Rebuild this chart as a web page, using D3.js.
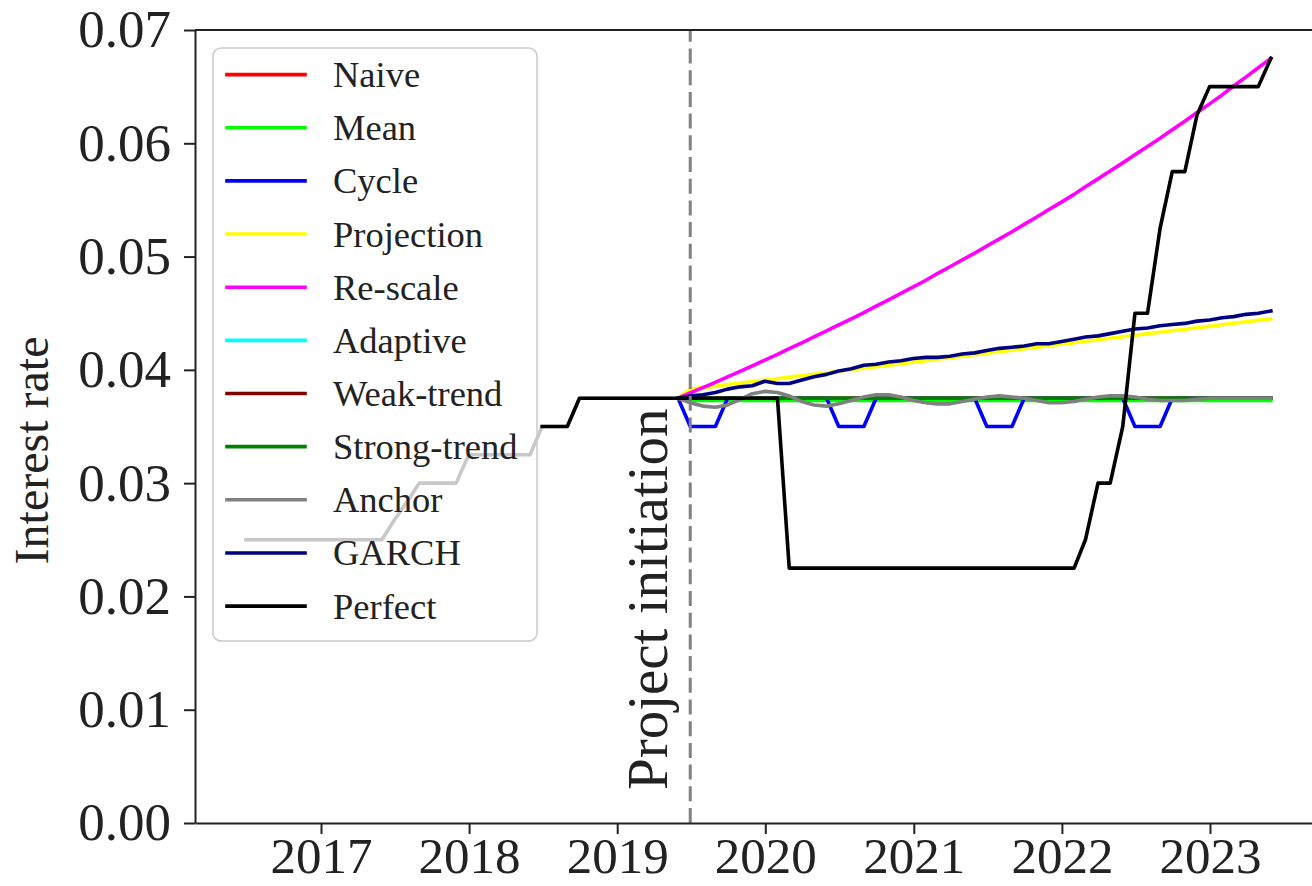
<!DOCTYPE html>
<html>
<head>
<meta charset="utf-8">
<script src="https://cdn.jsdelivr.net/npm/d3@7"></script>
<style>
  html, body { margin: 0; padding: 0; background: #ffffff; }
  svg { display: block; }
  text { font-family: "Liberation Serif", "Times New Roman", Times, serif; fill: #222222; }
</style>
</head>
<body>
<svg id="chart" width="1312" height="886"></svg>
<script>
// ---------------------------------------------------------------------------
// Data: monthly interest-rate series (month-end observations)
// ---------------------------------------------------------------------------

// Observed rate before the project starts, Jun 2016 – May 2019
const historyStart = [2016, 5];
const historyRate = [
  0.025, 0.025, 0.025, 0.025, 0.025, 0.025, 0.025, 0.025, 0.025, 0.025, 0.025, 0.025,
  0.0267, 0.0283, 0.030, 0.030, 0.030, 0.030, 0.0325, 0.0325, 0.0325, 0.0325, 0.0325, 0.0325,
  0.035, 0.035, 0.035, 0.0375, 0.0375, 0.0375, 0.0375, 0.0375, 0.0375, 0.0375, 0.0375, 0.0375
];

// Forecasts, May 2019 – May 2023
const forecastStart = [2019, 4];

const naive = [
  0.0375,
  0.0375, 0.0375, 0.0375, 0.0375, 0.0375, 0.0375, 0.0375, 0.0375, 0.0375, 0.0375, 0.0375, 0.0375,
  0.0375, 0.0375, 0.0375, 0.0375, 0.0375, 0.0375, 0.0375, 0.0375, 0.0375, 0.0375, 0.0375, 0.0375,
  0.0375, 0.0375, 0.0375, 0.0375, 0.0375, 0.0375, 0.0375, 0.0375, 0.0375, 0.0375, 0.0375, 0.0375,
  0.0375, 0.0375, 0.0375, 0.0375, 0.0375, 0.0375, 0.0375, 0.0375, 0.0375, 0.0375, 0.0375, 0.0375
];
const mean = [
  0.0375,
  0.0373, 0.0373, 0.0373, 0.0373, 0.0373, 0.0373, 0.0373, 0.0373, 0.0373, 0.0373, 0.0373, 0.0373,
  0.0373, 0.0373, 0.0373, 0.0373, 0.0373, 0.0373, 0.0373, 0.0373, 0.0373, 0.0373, 0.0373, 0.0373,
  0.0373, 0.0373, 0.0373, 0.0373, 0.0373, 0.0373, 0.0373, 0.0373, 0.0373, 0.0373, 0.0373, 0.0373,
  0.0373, 0.0373, 0.0373, 0.0373, 0.0373, 0.0373, 0.0373, 0.0373, 0.0373, 0.0373, 0.0373, 0.0373
];
const cycle = [
  0.0375,
  0.035, 0.035, 0.035, 0.0375, 0.0375, 0.0375, 0.0375, 0.0375, 0.0375, 0.0375, 0.0375, 0.0375,
  0.035, 0.035, 0.035, 0.0375, 0.0375, 0.0375, 0.0375, 0.0375, 0.0375, 0.0375, 0.0375, 0.0375,
  0.035, 0.035, 0.035, 0.0375, 0.0375, 0.0375, 0.0375, 0.0375, 0.0375, 0.0375, 0.0375, 0.0375,
  0.035, 0.035, 0.035, 0.0375, 0.0375, 0.0375, 0.0375, 0.0375, 0.0375, 0.0375, 0.0375, 0.0375
];
const projection = [
  0.0375,
  0.0383, 0.03843, 0.03856, 0.03870, 0.03883, 0.03896, 0.03909, 0.03922, 0.03936, 0.03949, 0.03962, 0.03975,
  0.03988, 0.04002, 0.04015, 0.04028, 0.04041, 0.04054, 0.04068, 0.04081, 0.04094, 0.04107, 0.04120, 0.04134,
  0.04147, 0.04160, 0.04173, 0.04186, 0.04200, 0.04213, 0.04226, 0.04239, 0.04252, 0.04266, 0.04279, 0.04292,
  0.04305, 0.04318, 0.04332, 0.04345, 0.04358, 0.04371, 0.04384, 0.04398, 0.04411, 0.04424, 0.04437, 0.04450
];
const rescale = [
  0.03750,
  0.03796, 0.03843, 0.03890, 0.03938, 0.03987, 0.04036, 0.04086, 0.04136, 0.04187, 0.04239, 0.04291, 0.04344,
  0.04397, 0.04451, 0.04506, 0.04562, 0.04618, 0.04675, 0.04732, 0.04791, 0.04850, 0.04910, 0.04970, 0.05031,
  0.05093, 0.05156, 0.05219, 0.05284, 0.05349, 0.05415, 0.05481, 0.05549, 0.05617, 0.05686, 0.05756, 0.05827,
  0.05899, 0.05972, 0.06045, 0.06120, 0.06195, 0.06271, 0.06348, 0.06427, 0.06506, 0.06586, 0.06667, 0.06749
];
const adaptive = [
  0.0375,
  0.0375, 0.0375, 0.0375, 0.0375, 0.0375, 0.0375, 0.0375, 0.0375, 0.0375, 0.0375, 0.0375, 0.0375,
  0.0375, 0.0375, 0.0375, 0.0375, 0.0375, 0.0375, 0.0375, 0.0375, 0.0375, 0.0375, 0.0375, 0.0375,
  0.0375, 0.0375, 0.0375, 0.0375, 0.0375, 0.0375, 0.0375, 0.0375, 0.0375, 0.0375, 0.0375, 0.0375,
  0.0375, 0.0375, 0.0375, 0.0375, 0.0375, 0.0375, 0.0375, 0.0375, 0.0375, 0.0375, 0.0375, 0.0375
];
const weakTrend = [
  0.0375,
  0.0375, 0.0375, 0.0375, 0.0375, 0.0375, 0.0375, 0.0375, 0.0375, 0.0375, 0.0375, 0.0375, 0.0375,
  0.0375, 0.0375, 0.0375, 0.0375, 0.0375, 0.0375, 0.0375, 0.0375, 0.0375, 0.0375, 0.0375, 0.0375,
  0.0375, 0.0375, 0.0375, 0.0375, 0.0375, 0.0375, 0.0375, 0.0375, 0.0375, 0.0375, 0.0375, 0.0375,
  0.0375, 0.0375, 0.0375, 0.0375, 0.0375, 0.0375, 0.0375, 0.0375, 0.0375, 0.0375, 0.0375, 0.0375
];
const strongTrend = [
  0.0375,
  0.0375, 0.0375, 0.0375, 0.0375, 0.0375, 0.0375, 0.0375, 0.0375, 0.0375, 0.0375, 0.0375, 0.0375,
  0.0375, 0.0375, 0.0375, 0.0375, 0.0375, 0.0375, 0.0375, 0.0375, 0.0375, 0.0375, 0.0375, 0.0375,
  0.0375, 0.0375, 0.0375, 0.0375, 0.0375, 0.0375, 0.0375, 0.0375, 0.0375, 0.0375, 0.0375, 0.0375,
  0.0375, 0.0375, 0.0375, 0.0375, 0.0375, 0.0375, 0.0375, 0.0375, 0.0375, 0.0375, 0.0375, 0.0375
];
const anchor = [
  0.0375,
  0.0371, 0.0368, 0.0367, 0.0369, 0.0374, 0.0379, 0.0381, 0.0380, 0.0377, 0.0372, 0.0369, 0.0368,
  0.0370, 0.0373, 0.0376, 0.0378, 0.0378, 0.0376, 0.0373, 0.0371, 0.0370, 0.0370, 0.0372, 0.0374,
  0.0376, 0.0377, 0.0376, 0.0375, 0.0373, 0.0371, 0.0371, 0.0372, 0.0374, 0.0376, 0.0377, 0.0377,
  0.0376, 0.0374, 0.0373, 0.0373, 0.0373, 0.0374, 0.0375, 0.0375, 0.0375, 0.0375, 0.0375, 0.0375
];
const garch = [
  0.0375,
  0.0377, 0.0378, 0.0380, 0.0383, 0.0385, 0.0386, 0.0390, 0.0388, 0.0388, 0.0391, 0.0394, 0.0396,
  0.0399, 0.0401, 0.0404, 0.0405, 0.0407, 0.0408, 0.0410, 0.0411, 0.0411, 0.0412, 0.0414, 0.0415,
  0.0417, 0.0419, 0.0420, 0.0421, 0.0423, 0.0423, 0.0425, 0.0427, 0.0429, 0.0430, 0.0432, 0.0434,
  0.0436, 0.0437, 0.0439, 0.0440, 0.0441, 0.0443, 0.0444, 0.0446, 0.0447, 0.0449, 0.0450, 0.0452
];

// Realised ("perfect foresight") rate, Jun 2018 – May 2023
const perfectStart = [2018, 5];
const perfect = [
  0.035, 0.035, 0.035, 0.0375, 0.0375, 0.0375, 0.0375,
  0.0375, 0.0375, 0.0375, 0.0375, 0.0375, 0.0375, 0.0375, 0.0375, 0.0375, 0.0375, 0.0375, 0.0375,
  0.0375, 0.0225, 0.0225, 0.0225, 0.0225, 0.0225, 0.0225, 0.0225, 0.0225, 0.0225, 0.0225, 0.0225,
  0.0225, 0.0225, 0.0225, 0.0225, 0.0225, 0.0225, 0.0225, 0.0225, 0.0225, 0.0225, 0.0225, 0.0225,
  0.0225, 0.025, 0.030, 0.030, 0.035, 0.045, 0.045, 0.0525, 0.0575, 0.0575, 0.0625, 0.065,
  0.065, 0.065, 0.065, 0.065, 0.0675
];

const seriesNames  = ["Naive", "Mean", "Cycle", "Projection", "Re-scale", "Adaptive",
                      "Weak-trend", "Strong-trend", "Anchor", "GARCH", "Perfect"];
const seriesColors = ["#ff0000", "#00ff00", "#0000ff", "#ffff00", "#ff00ff", "#00ffff",
                      "#800000", "#008000", "#808080", "#000080", "#000000"];
const forecastValues = [naive, mean, cycle, projection, rescale, adaptive,
                        weakTrend, strongTrend, anchor, garch];

const yearTicks = [2017, 2018, 2019, 2020, 2021, 2022, 2023];
const rateTicks = [0, 0.01, 0.02, 0.03, 0.04, 0.05, 0.06, 0.07];
const initiationDate = new Date(2019, 5, 30);

// ---------------------------------------------------------------------------
// Layout
// ---------------------------------------------------------------------------
const plot = { left: 195, right: 1322, top: 30, bottom: 823 };
const monthEnd = (start, i) => new Date(start[0], start[1] + i + 1, 0);

// Year ticks fall at fixed pixel positions; extend that mapping across the frame
const yearRef = d3.scaleTime()
  .domain([new Date(2017, 0, 1), new Date(2023, 0, 1)])
  .range([321, 1210]);
const x = d3.scaleTime()
  .domain([yearRef.invert(plot.left), yearRef.invert(plot.right)])
  .range([plot.left, plot.right]);
const y = d3.scaleLinear().domain([0, 0.07]).range([plot.bottom, plot.top]);

const svg = d3.select("#chart");

// ---------------------------------------------------------------------------
// Legend frame (drawn beneath the data, semi-opaque white)
// ---------------------------------------------------------------------------
const legend = { x: 213, y: 48, w: 324, h: 593, row0: 74.6, step: 53.15 };
svg.append("rect")
  .attr("x", legend.x).attr("y", legend.y)
  .attr("width", legend.w).attr("height", legend.h)
  .attr("rx", 8).attr("ry", 8)
  .attr("fill", "#ffffff").attr("fill-opacity", 0.8)
  .attr("stroke", "#cccccc").attr("stroke-width", 1.6);

// ---------------------------------------------------------------------------
// Lines
// ---------------------------------------------------------------------------
const lineFrom = start => d3.line()
  .x((d, i) => x(monthEnd(start, i)))
  .y(d => y(d));

const lines = svg.append("g")
  .attr("fill", "none")
  .attr("stroke-width", 3.6)
  .attr("stroke-linejoin", "round")
  .attr("stroke-linecap", "square");

lines.append("path")
  .attr("d", lineFrom(historyStart)(historyRate))
  .attr("stroke", "#c8c8c8");

forecastValues.forEach((vals, k) => {
  lines.append("path")
    .attr("d", lineFrom(forecastStart)(vals))
    .attr("stroke", seriesColors[k]);
});

lines.append("path")
  .attr("d", lineFrom(perfectStart)(perfect))
  .attr("stroke", seriesColors[10]);

// Project initiation marker (dash pattern runs from the x-axis upward)
svg.append("line")
  .attr("x1", x(initiationDate)).attr("x2", x(initiationDate))
  .attr("y1", y(0)).attr("y2", y(0.07))
  .attr("stroke", "#808080").attr("stroke-width", 3)
  .attr("stroke-dasharray", "15,6.7");

svg.append("text")
  .attr("transform", `translate(${x(initiationDate) - 23},790) rotate(-90)`)
  .attr("font-size", 57)
  .attr("text-anchor", "start")
  .text("Project initiation");

// ---------------------------------------------------------------------------
// Axes and frame
// ---------------------------------------------------------------------------
const xAxis = svg.append("g")
  .attr("transform", `translate(0,${plot.bottom})`)
  .call(d3.axisBottom(x)
    .tickValues(yearTicks.map(yr => new Date(yr, 0, 1)))
    .tickFormat(d3.timeFormat("%Y"))
    .tickSize(11).tickSizeOuter(0).tickPadding(3));

const yAxis = svg.append("g")
  .attr("transform", `translate(${plot.left},0)`)
  .call(d3.axisLeft(y)
    .tickValues(rateTicks)
    .tickFormat(d3.format(".2f"))
    .tickSize(11).tickSizeOuter(0).tickPadding(13));

[xAxis, yAxis].forEach(g => {
  g.select(".domain").attr("stroke", "#222222").attr("stroke-width", 2);
  g.selectAll(".tick line").attr("stroke", "#222222").attr("stroke-width", 2);
  g.selectAll(".tick text")
    .attr("font-family", "\"Liberation Serif\", \"Times New Roman\", serif")
    .attr("fill", "#222222");
});
xAxis.selectAll(".tick text").attr("font-size", 51);
yAxis.selectAll(".tick text").attr("font-size", 53);

// top spine
svg.append("line")
  .attr("x1", plot.left).attr("x2", plot.right)
  .attr("y1", plot.top).attr("y2", plot.top)
  .attr("stroke", "#222222").attr("stroke-width", 2);
// right spine
svg.append("line")
  .attr("x1", plot.right).attr("x2", plot.right)
  .attr("y1", plot.top).attr("y2", plot.bottom)
  .attr("stroke", "#222222").attr("stroke-width", 2);

svg.append("text")
  .attr("transform", `translate(48,${(plot.top + plot.bottom) / 2 + 24}) rotate(-90)`)
  .attr("font-size", 48)
  .attr("text-anchor", "middle")
  .text("Interest rate");

// ---------------------------------------------------------------------------
// Legend entries
// ---------------------------------------------------------------------------
const entries = svg.append("g");
seriesNames.forEach((name, k) => {
  const ly = legend.row0 + k * legend.step;
  entries.append("line")
    .attr("x1", 227).attr("x2", 305)
    .attr("y1", ly).attr("y2", ly)
    .attr("stroke", seriesColors[k]).attr("stroke-width", 3.6)
    .attr("stroke-linecap", "square");
  entries.append("text")
    .attr("x", 333).attr("y", ly + 12.5)
    .attr("font-size", 36.5)
    .text(name);
});
</script>
</body>
</html>
